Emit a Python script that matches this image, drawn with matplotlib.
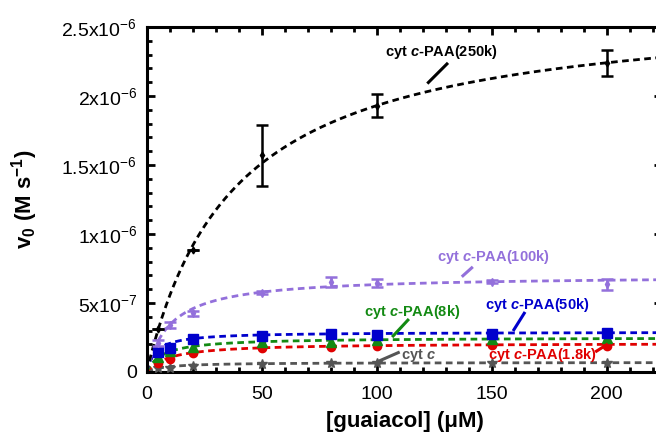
import numpy as np
import matplotlib
matplotlib.use("Agg")
import matplotlib.pyplot as plt
from matplotlib.ticker import MultipleLocator

plt.rcParams['font.family'] = ['Liberation Sans', 'DejaVu Sans']
plt.rcParams['mathtext.fontset'] = 'custom'
plt.rcParams['mathtext.rm'] = 'Liberation Sans'
plt.rcParams['mathtext.it'] = 'Liberation Sans:italic:bold'
plt.rcParams['mathtext.bf'] = 'Liberation Sans:bold'

# guaiacol concentrations (uM)
conc = [5, 10, 20, 50, 80, 100, 150, 200]
conc_250k = [5, 20, 50, 100, 200]

# initial rates (M/s)
v_250k = [0.31e-6, 0.884e-6, 1.57e-6, 1.93e-6, 2.24e-6]
err_250k = [0.0, 0.0, 0.22e-6, 0.085e-6, 0.095e-6]
v_100k = [0.21e-6, 0.34e-6, 0.425e-6, 0.575e-6, 0.65e-6, 0.643e-6, 0.654e-6, 0.635e-6]
err_100k = [0.02e-6, 0.02e-6, 0.02e-6, 0.01e-6, 0.035e-6, 0.03e-6, 0.01e-6, 0.04e-6]
v_50k = [0.147e-6, 0.176e-6, 0.237e-6, 0.263e-6, 0.273e-6, 0.27e-6, 0.275e-6, 0.28e-6]
v_8k = [0.11e-6, 0.15e-6, 0.183e-6, 0.22e-6, 0.22e-6, 0.232e-6, 0.237e-6, 0.249e-6]
v_1_8k = [0.067e-6, 0.092e-6, 0.135e-6, 0.172e-6, 0.183e-6, 0.19e-6, 0.196e-6, 0.188e-6]
v_cytc = [0.027e-6, 0.031e-6, 0.043e-6, 0.058e-6, 0.063e-6, 0.063e-6, 0.067e-6, 0.067e-6]

# Michaelis-Menten fit parameters (Vmax in M/s, Km in uM)
fits = {
    '250k': (2.67e-6, 38.3),
    '100k': (0.70e-6, 10.5),
    '50k': (0.29e-6, 4.0),
    '8k': (0.25e-6, 7.0),
    '1.8k': (0.21e-6, 10.0),
    'cytc': (0.07e-6, 8.0),
}

fig = plt.figure(figsize=(6.56, 4.32), dpi=100)
ax = fig.add_axes([0.2236, 0.1389, 0.7854, 0.7986])

s = np.linspace(0, 224, 400)
dash = (0, (2.4, 1.6))

def mm(key):
    vmax, km = fits[key]
    return vmax * s / (km + s)

series = [
    ('cytc', conc, v_cytc, None, '#555555', '*', 7.5),
    ('1.8k', conc, v_1_8k, None, '#e00000', 'o', 6),
    ('8k', conc, v_8k, None, '#138a13', '^', 6.5),
    ('50k', conc, v_50k, None, '#0000cc', 's', 6.5),
    ('100k', conc, v_100k, err_100k, '#9370db', 'd', 4),
    ('250k', conc_250k, v_250k, err_250k, 'black', 'd', 3.5),
]

for key, x, y, e, c, m, ms in series:
    ax.plot(s, mm(key), color=c, lw=2.0, ls=dash, zorder=2)
    if e is None:
        ax.plot(x, y, ls='none', marker=m, color=c, ms=ms, zorder=3)
    else:
        ax.errorbar(x, y, yerr=e, fmt=m, color=c, ms=ms, elinewidth=1.8,
                    capsize=4, capthick=1.8, zorder=3)

ax.set_xlim(0, 224)
ax.set_ylim(0, 2.5e-6)

ax.xaxis.set_major_locator(MultipleLocator(50))
ax.xaxis.set_minor_locator(MultipleLocator(10))
ax.yaxis.set_major_locator(MultipleLocator(0.5e-6))
ax.yaxis.set_minor_locator(MultipleLocator(0.1e-6))
ax.set_yticks([0, 0.5e-6, 1e-6, 1.5e-6, 2e-6, 2.5e-6])
ax.set_yticklabels(['0', r'5x10$^{-7}$', r'1x10$^{-6}$', r'1.5x10$^{-6}$',
                    r'2x10$^{-6}$', r'2.5x10$^{-6}$'])

ax.tick_params(which='both', direction='in', top=True, right=True,
               labelsize=14, width=2)
ax.tick_params(which='major', length=6)
ax.tick_params(axis='x', which='major', pad=10)
ax.tick_params(axis='y', which='major', pad=7)
ax.tick_params(which='minor', length=3.5)
for sp in ax.spines.values():
    sp.set_linewidth(2.2)

ax.set_xlabel('[guaiacol] (\u03bcM)', fontsize=16, fontweight='bold')
ax.xaxis.set_label_coords(0.502, -0.113)
ax.set_ylabel(r'v$_\mathbf{0}$ (M s$^\mathbf{-1}$)', fontsize=16, fontweight='bold')
ax.yaxis.set_label_coords(-0.207, 0.5)

# labels with leader lines (data coordinates)
labels = [
    (r'cyt $c$-PAA(250k)', 'black', 128, 2.32e-6, (131, 2.24e-6), (122, 2.09e-6)),
    (r'cyt $c$-PAA(100k)', '#9370db', 150.5, 0.836e-6, (141.8, 0.762e-6), (137, 0.69e-6)),
    (r'cyt $c$-PAA(8k)', '#138a13', 115.3, 0.435e-6, (114, 0.384e-6), (106.7, 0.253e-6)),
    (r'cyt $c$-PAA(50k)', '#0000cc', 169.7, 0.485e-6, (164.5, 0.435e-6), (159.3, 0.297e-6)),
    (r'cyt $c$-PAA(1.8k)', '#e00000', 172, 0.12e-6, (200.5, 0.203e-6), (195, 0.145e-6)),
    (r'cyt $c$', '#555555', 118, 0.123e-6, (110, 0.145e-6), (100, 0.072e-6)),
]
for txt, c, tx, ty, p0, p1 in labels:
    ax.text(tx, ty, txt, color=c, fontsize=10.5, fontweight='bold',
            ha='center', va='center', zorder=5)
    ax.plot([p0[0], p1[0]], [p0[1], p1[1]], color=c, lw=2.2, zorder=4,
            solid_capstyle='butt')

fig.savefig('out.png', dpi=100)
